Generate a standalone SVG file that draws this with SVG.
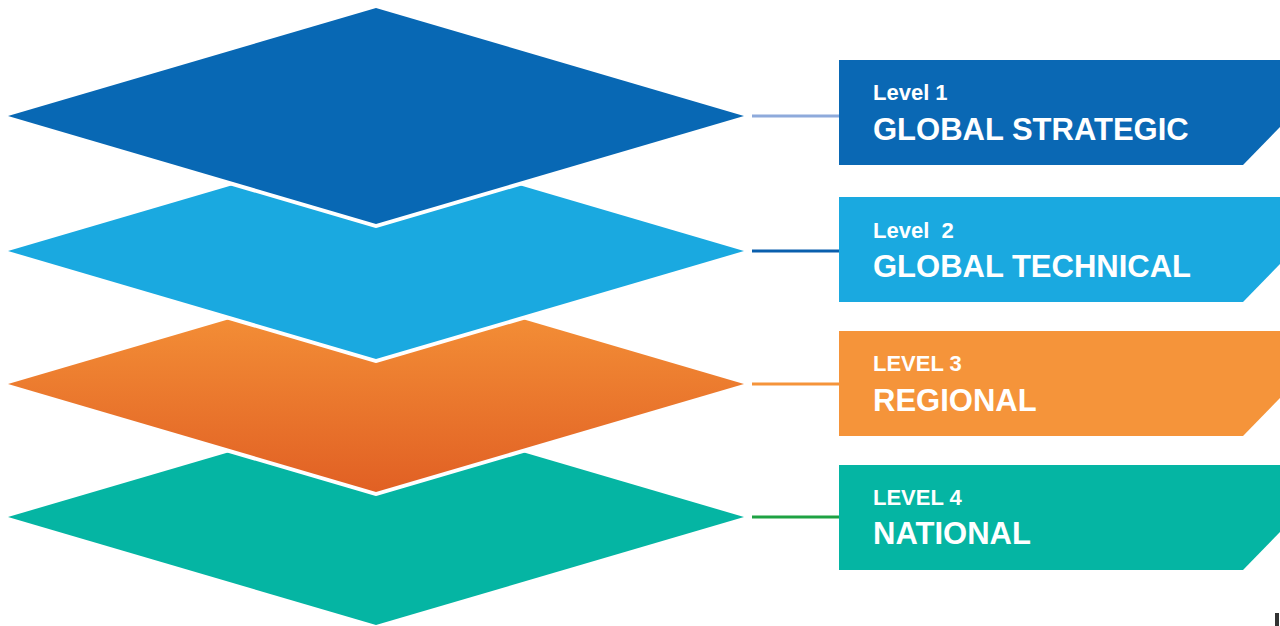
<svg xmlns="http://www.w3.org/2000/svg" width="1280" height="626" viewBox="0 0 1280 626">
<defs>
<linearGradient id="og" x1="0" y1="0" x2="0" y2="1">
<stop offset="0" stop-color="#f7983a"/>
<stop offset="1" stop-color="#e16024"/>
</linearGradient>
<style>
.dia{stroke:#ffffff;stroke-width:8;stroke-linejoin:round;paint-order:stroke}
.sm{font-family:"Liberation Sans",Arial,sans-serif;font-weight:700;font-size:22px;fill:#ffffff;white-space:pre}
.lg{font-family:"Liberation Sans",Arial,sans-serif;font-weight:700;font-size:31px;fill:#ffffff}
.con{stroke-width:3;fill:none}
</style>
</defs>
<rect width="1280" height="626" fill="#ffffff"/>
<g id="layer4"><polygon class="dia" fill="#05b5a3" points="376,409 744,517 376,625 8,517"/></g>
<g id="layer3"><polygon class="dia" fill="url(#og)" points="376,276 744,384 376,492 8,384"/></g>
<g id="layer2"><polygon class="dia" fill="#1aa9e0" points="376,143 744,251 376,359 8,251"/></g>
<g id="layer1"><polygon class="dia" fill="#0868b4" points="376,8 744,116 376,224 8,116"/></g>
<g id="connectors">
<line class="con" x1="752" y1="116" x2="839" y2="116" stroke="#8eaadb"/>
<line class="con" x1="752" y1="251" x2="839" y2="251" stroke="#0a5fad"/>
<line class="con" x1="752" y1="384" x2="839" y2="384" stroke="#f5943a"/>
<line class="con" x1="752" y1="517" x2="839" y2="517" stroke="#1ea243"/>
</g>
<g id="label1"><polygon fill="#0a68b4" points="839,60 1280,60 1280,127 1243,165 839,165"/>
<text class="sm" x="873" y="100">Level 1</text><text class="lg" x="873" y="140">GLOBAL STRATEGIC</text></g>
<g id="label2"><polygon fill="#1aa9e0" points="839,197 1280,197 1280,264 1243,302 839,302"/>
<text class="sm" x="873" y="238">Level  2</text><text class="lg" x="873" y="277">GLOBAL TECHNICAL</text></g>
<g id="label3"><polygon fill="#f5943a" points="839,331 1280,331 1280,398 1243,436 839,436"/>
<text class="sm" x="873" y="371">LEVEL 3</text><text class="lg" x="873" y="411">REGIONAL</text></g>
<g id="label4"><polygon fill="#05b5a3" points="839,465 1280,465 1280,532 1243,570 839,570"/>
<text class="sm" x="873" y="505">LEVEL 4</text><text class="lg" x="873" y="544">NATIONAL</text></g>
<rect x="1275" y="613" width="4" height="13" fill="#333333"/>
</svg>
